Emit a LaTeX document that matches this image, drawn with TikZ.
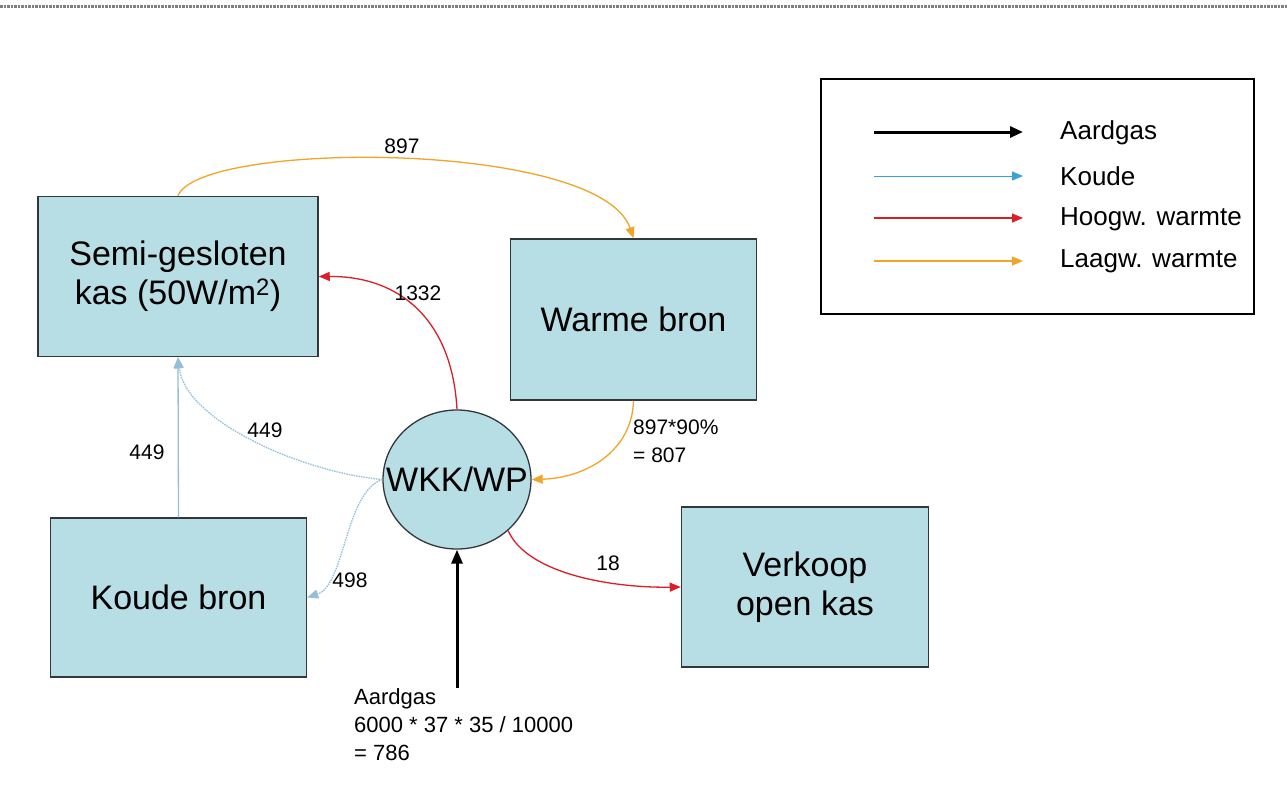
\documentclass[tikz,border=0pt]{standalone}
\usepackage{fontspec}
\setmainfont{Liberation Sans}
\usetikzlibrary{arrows.meta,shapes.geometric}
\definecolor{boxfill}{RGB}{183,222,228}
\definecolor{kblue}{RGB}{60,160,220}
\definecolor{kbluel}{RGB}{150,190,215}
\definecolor{kred}{RGB}{220,30,40}
\definecolor{korange}{RGB}{240,165,40}
\definecolor{borderc}{RGB}{50,55,60}
\begin{document}
\begin{tikzpicture}[x=1pt,y=-1pt,
  box/.style={draw=borderc,line width=1.5pt,fill=boxfill,inner sep=0pt,align=center,font=\fontsize{34}{39}\selectfont},
  lbl/.style={inner sep=0pt,font=\fontsize{21}{28}\selectfont},
  legtxt/.style={inner sep=0pt,anchor=west,font=\fontsize{26}{30}\selectfont},
  tipsmall/.style={-{Triangle[length=11pt,width=9pt]}},
  oarrow/.style={tipsmall,draw=korange,line width=1.3pt},
  rarrow/.style={tipsmall,draw=kred,line width=1.3pt},
  barrow/.style={tipsmall,draw=kbluel,line width=1.3pt,dash pattern=on 1.5pt off 1pt},
  bsolid/.style={tipsmall,draw=kbluel,line width=1.3pt},
  garrow/.style={-{Triangle[length=14pt,width=11pt]},draw=black,line width=3pt}
]
\useasboundingbox (0,0) rectangle (1287,801);
\fill[white] (0,0) rectangle (1287,801);
\draw[gray,line width=3pt,dash pattern=on 2.5pt off 1pt] (0,6.5) -- (1287,6.5);

% boxes
\node[box,minimum width=280pt,minimum height=160pt] (semi) at (178,276.5) {Semi-gesloten\\kas (50W/m\textsuperscript{2})};
\node[box,minimum width=246pt,minimum height=161pt] (warme) at (633.5,319.5) {Warme bron};
\node[box,minimum width=256pt,minimum height=159pt] (koude) at (178.5,597.5) {Koude bron};
\node[box,minimum width=247pt,minimum height=160pt] (verkoop) at (805,587) {Verkoop\\open kas};
\node[box,ellipse,line width=1.3pt,minimum width=148pt,minimum height=139pt] (wkk) at (457,479.5) {\makebox[0pt]{WKK/WP}};

% legend
\node[draw=black,line width=1.3pt,minimum width=433pt,minimum height=235pt,inner sep=0pt] (legend) at (1037.5,196.5) {};
\coordinate (la1) at (874,132); \coordinate (lb1) at (1023,132);
\coordinate (la2) at (874,176); \coordinate (lb2) at (1023,176);
\coordinate (la3) at (874,218); \coordinate (lb3) at (1023,218);
\coordinate (la4) at (874,261); \coordinate (lb4) at (1023,261);
\draw[-{Triangle[length=13pt,width=11pt]},draw=black,line width=3pt] (la1) -- (lb1);
\draw[tipsmall,draw=kblue,line width=1pt] (la2) -- (lb2);
\draw[rarrow] (la3) -- (lb3);
\draw[oarrow] (la4) -- (lb4);
\node[legtxt] (lt1) at (1060,133) {Aardgas};
\node[legtxt] (lt2) at (1060,176) {Koude};
\node[legtxt] (lt3) at (1060,219) {Hoogw. warmte};
\node[legtxt] (lt4) at (1060,261) {Laagw. warmte};

% connectors
\draw[oarrow] (semi.north) .. controls (200,140) and (600,140) .. (warme.north);
\node[lbl] (l897) at (402,146) {897};

\draw[rarrow] (wkk.north) .. controls (452,320) and (400,276) .. (semi.east);
\node[lbl] (l1332) at (418,293) {1332};

\draw[bsolid] (koude.north) -- (semi.south);
\node[lbl] (l449a) at (147,452) {449};

\draw[barrow] (wkk.west) .. controls (300,472) and (185,420) .. (semi.south);
\node[lbl] (l449b) at (265,430) {449};

\draw[barrow] (wkk.west) .. controls (345,492) and (345,585) .. (koude.east);
\node[lbl] (l498) at (350,580) {498};

\draw[oarrow] (warme.south) .. controls (632,452) and (585,478) .. (wkk.east);
\node[lbl,anchor=north west,align=left] (l807) at (633,420) {897*90\%\\= 807};

\draw[rarrow] (wkk.-45) .. controls (528,575) and (615,588) .. (verkoop.west);
\node[lbl] (l18) at (608,563) {18};

\coordinate (gas) at (457,688);
\draw[garrow] (gas) -- (wkk.south);
\node[lbl,anchor=north west,align=left,font=\fontsize{22}{28}\selectfont] (lgas) at (354,688) {Aardgas\\6000 * 37 * 35 / 10000\\= 786};
\end{tikzpicture}
\end{document}
